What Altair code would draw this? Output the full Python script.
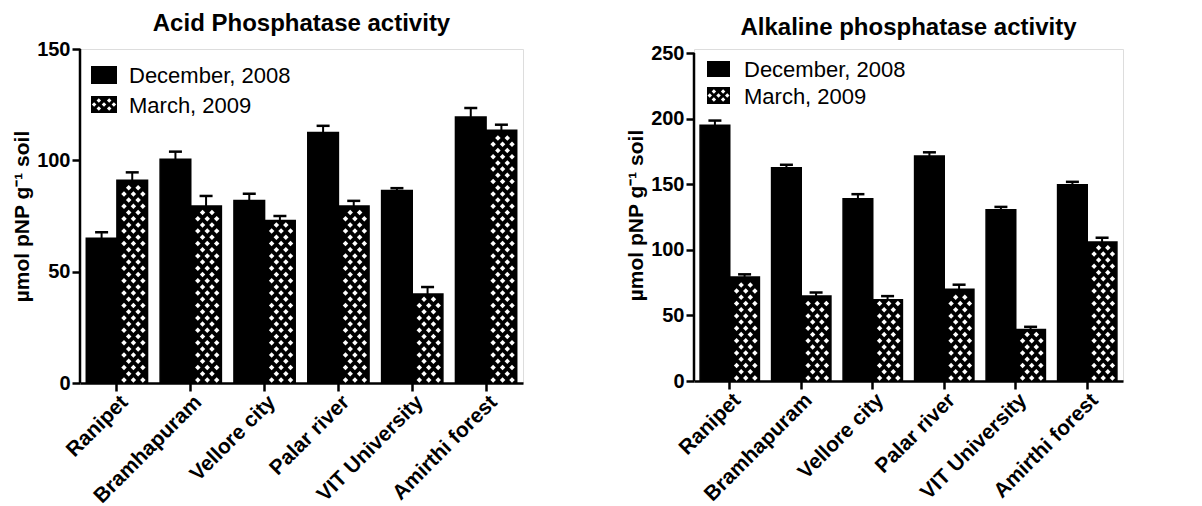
import altair as alt
import pandas as pd

sites = ["Ranipet", "Bramhapuram", "Vellore city", "Palar river", "VIT University", "Amirthi forest"]
series = ["December, 2008", "March, 2009"]
y_title = "µmol pNP g⁻¹ soil"

# Acid phosphatase activity
acid_dec = [65.0, 100.5, 82.0, 112.5, 86.5, 119.5]
acid_dec_err = [2.7, 3.4, 3.0, 3.0, 1.0, 4.0]
acid_mar = [91.0, 79.5, 73.0, 79.5, 40.0, 113.5]
acid_mar_err = [3.6, 4.5, 2.0, 2.3, 3.1, 2.5]
acid_ticks = [0, 50, 100, 150]

# Alkaline phosphatase activity
alk_dec = [195.0, 162.5, 139.0, 171.5, 130.5, 149.5]
alk_dec_err = [3.5, 2.3, 3.4, 2.8, 2.2, 2.3]
alk_mar = [79.3, 64.8, 62.0, 70.0, 39.3, 106.0]
alk_mar_err = [2.0, 2.7, 2.7, 3.4, 2.0, 3.2]
alk_ticks = [0, 50, 100, 150, 200, 250]

FONT = "Liberation Sans"


def panel(title, dec, dec_err, mar, mar_err, ticks, width, height, top_gap, leg):
    ymax = ticks[-1]
    # the plot area starts top_gap pixels above the highest tick
    ydom_max = ymax * height / (height - top_gap)
    rows = []
    for s, v, e in zip(sites, dec, dec_err):
        rows.append({"site": s, "series": series[0], "value": v, "top": v + e})
    for s, v, e in zip(sites, mar, mar_err):
        rows.append({"site": s, "series": series[1], "value": v, "top": v + e})
    df = pd.DataFrame(rows)
    df_mar = df[df["series"] == series[1]]

    px_per_unit = height / ydom_max
    row_step = 6.2 / px_per_unit

    xenc = alt.X(
        "site:N",
        sort=sites,
        title=None,
        scale=alt.Scale(paddingInner=0.17, paddingOuter=0.085),
        axis=alt.Axis(
            labelAngle=-45,
            labelFontSize=21,
            labelFontWeight="bold",
            labelFont=FONT,
            labelColor="black",
            labelPadding=0,
            tickSize=8,
            tickWidth=2.5,
            tickColor="black",
            domainColor="black",
            domainWidth=2.5,
            grid=False,
        ),
    )
    yaxis = alt.Axis(
        values=ticks,
        title=y_title,
        titleFont=FONT,
        titleFontSize=21,
        titleFontWeight="bold",
        titleColor="black",
        titlePadding=4,
        labelFont=FONT,
        labelFontSize=20,
        labelFontWeight="bold",
        labelColor="black",
        labelPadding=2,
        tickSize=8,
        tickWidth=2.5,
        tickColor="black",
        domain=False,
        grid=False,
    )
    yscale = alt.Scale(domain=[0, ydom_max], nice=False, zero=True)
    xo = alt.XOffset(
        "series:N", sort=series,
        scale=alt.Scale(domain=series, paddingInner=0, paddingOuter=0),
    )

    base = alt.Chart(df)
    bars = base.mark_bar(color="black", stroke="black", strokeWidth=1.5).encode(
        x=xenc, xOffset=xo, y=alt.Y("value:Q", scale=yscale, axis=yaxis, title=y_title)
    )
    rules = base.mark_rule(color="black", strokeWidth=2).encode(
        x=xenc, xOffset=xo,
        y=alt.Y("value:Q", scale=yscale, axis=yaxis, title=y_title),
        y2="top:Q",
    )
    caps = base.mark_tick(color="black", thickness=2.5, size=13, opacity=1).encode(
        x=xenc, xOffset=xo, y=alt.Y("top:Q", scale=yscale, axis=yaxis, title=y_title)
    )
    # y axis line from 0 up to the highest tick
    yline = alt.Chart(pd.DataFrame({"lo": [ticks[0]], "hi": [ticks[-1]]})).mark_rule(
        color="black", strokeWidth=2.5
    ).encode(
        x=alt.value(0),
        y=alt.Y("lo:Q", scale=yscale, axis=yaxis, title=y_title),
        y2="hi:Q",
    )
    # cross-hatch texture of the March bars (white diamonds on black)
    pattern = (
        alt.Chart(df_mar)
        .transform_calculate(rowi=f"sequence(0, floor(datum.value / {row_step} + 0.05))")
        .transform_flatten(["rowi"])
        .transform_calculate(
            yy=f"(datum.rowi + 0.5) * {row_step}",
            slots="datum.rowi % 2 == 0 ? [8, 10, 12] : [9, 11]",
        )
        .transform_flatten(["slots"])
        .mark_point(shape="diamond", filled=True, color="white", size=30, opacity=1, strokeWidth=0)
        .encode(
            x=xenc,
            xOffset=alt.XOffset(
                "slots:O",
                scale=alt.Scale(domain=list(range(14)), paddingInner=0, paddingOuter=0),
            ),
            y=alt.Y("yy:Q", scale=yscale, axis=yaxis, title=y_title),
        )
    )

    # legend
    bx0, bx1, r1y0, r1y1, r2y0, r2y1, tx = leg
    one = alt.Chart(pd.DataFrame({"series": [series[0]]}))
    leg_dec = one.mark_rect(color="black").encode(
        x=alt.value(bx0), x2=alt.value(bx1), y=alt.value(r1y0), y2=alt.value(r1y1)
    )
    leg_mar = one.mark_rect(color="black").encode(
        x=alt.value(bx0), x2=alt.value(bx1), y=alt.value(r2y0), y2=alt.value(r2y1)
    )
    sw = bx1 - bx0
    sh = r2y1 - r2y0
    dia_layers = []
    for fx, fy in [(0.3, 0.27), (0.7, 0.27), (0.5, 0.5), (0.3, 0.73), (0.7, 0.73), (0.12, 0.5), (0.88, 0.5)]:
        dia_layers.append(
            one.mark_point(shape="diamond", filled=True, color="white", size=20, opacity=1, strokeWidth=0).encode(
                x=alt.value(bx0 + fx * sw), y=alt.value(r2y0 + fy * sh)
            )
        )
    txt_dec = one.mark_text(align="left", baseline="middle", fontSize=22, font=FONT, color="black").encode(
        x=alt.value(tx), y=alt.value((r1y0 + r1y1) / 2 + 1), text=alt.value(series[0])
    )
    txt_mar = one.mark_text(align="left", baseline="middle", fontSize=22, font=FONT, color="black").encode(
        x=alt.value(tx), y=alt.value((r2y0 + r2y1) / 2 + 1), text=alt.value(series[1])
    )

    layer = alt.layer(
        bars, pattern, rules, caps, yline, leg_dec, leg_mar, *dia_layers, txt_dec, txt_mar
    ).resolve_scale(xOffset="independent").properties(
        width=width,
        height=height,
        title=alt.TitleParams(
            title, fontSize=24, fontWeight="bold", font=FONT, color="black", anchor="middle",
            offset=3
        ),
    )
    return layer


left = panel("Acid Phosphatase activity", acid_dec, acid_dec_err, acid_mar, acid_mar_err,
             acid_ticks, 443, 334, 0, (11, 37, 17, 35, 47, 64, 49))
right = panel("Alkaline phosphatase activity", alk_dec, alk_dec_err, alk_mar, alk_mar_err,
              alk_ticks, 429, 332, 4, (13, 36, 12, 28, 38, 55, 50))

chart = alt.hconcat(left, right, spacing=101).configure_view(stroke=None).configure(
    background="white", padding={"left": 3, "top": 3, "right": 5, "bottom": 0}
)

chart.save("out.html", embed_options={"renderer": "svg", "actions": False})
